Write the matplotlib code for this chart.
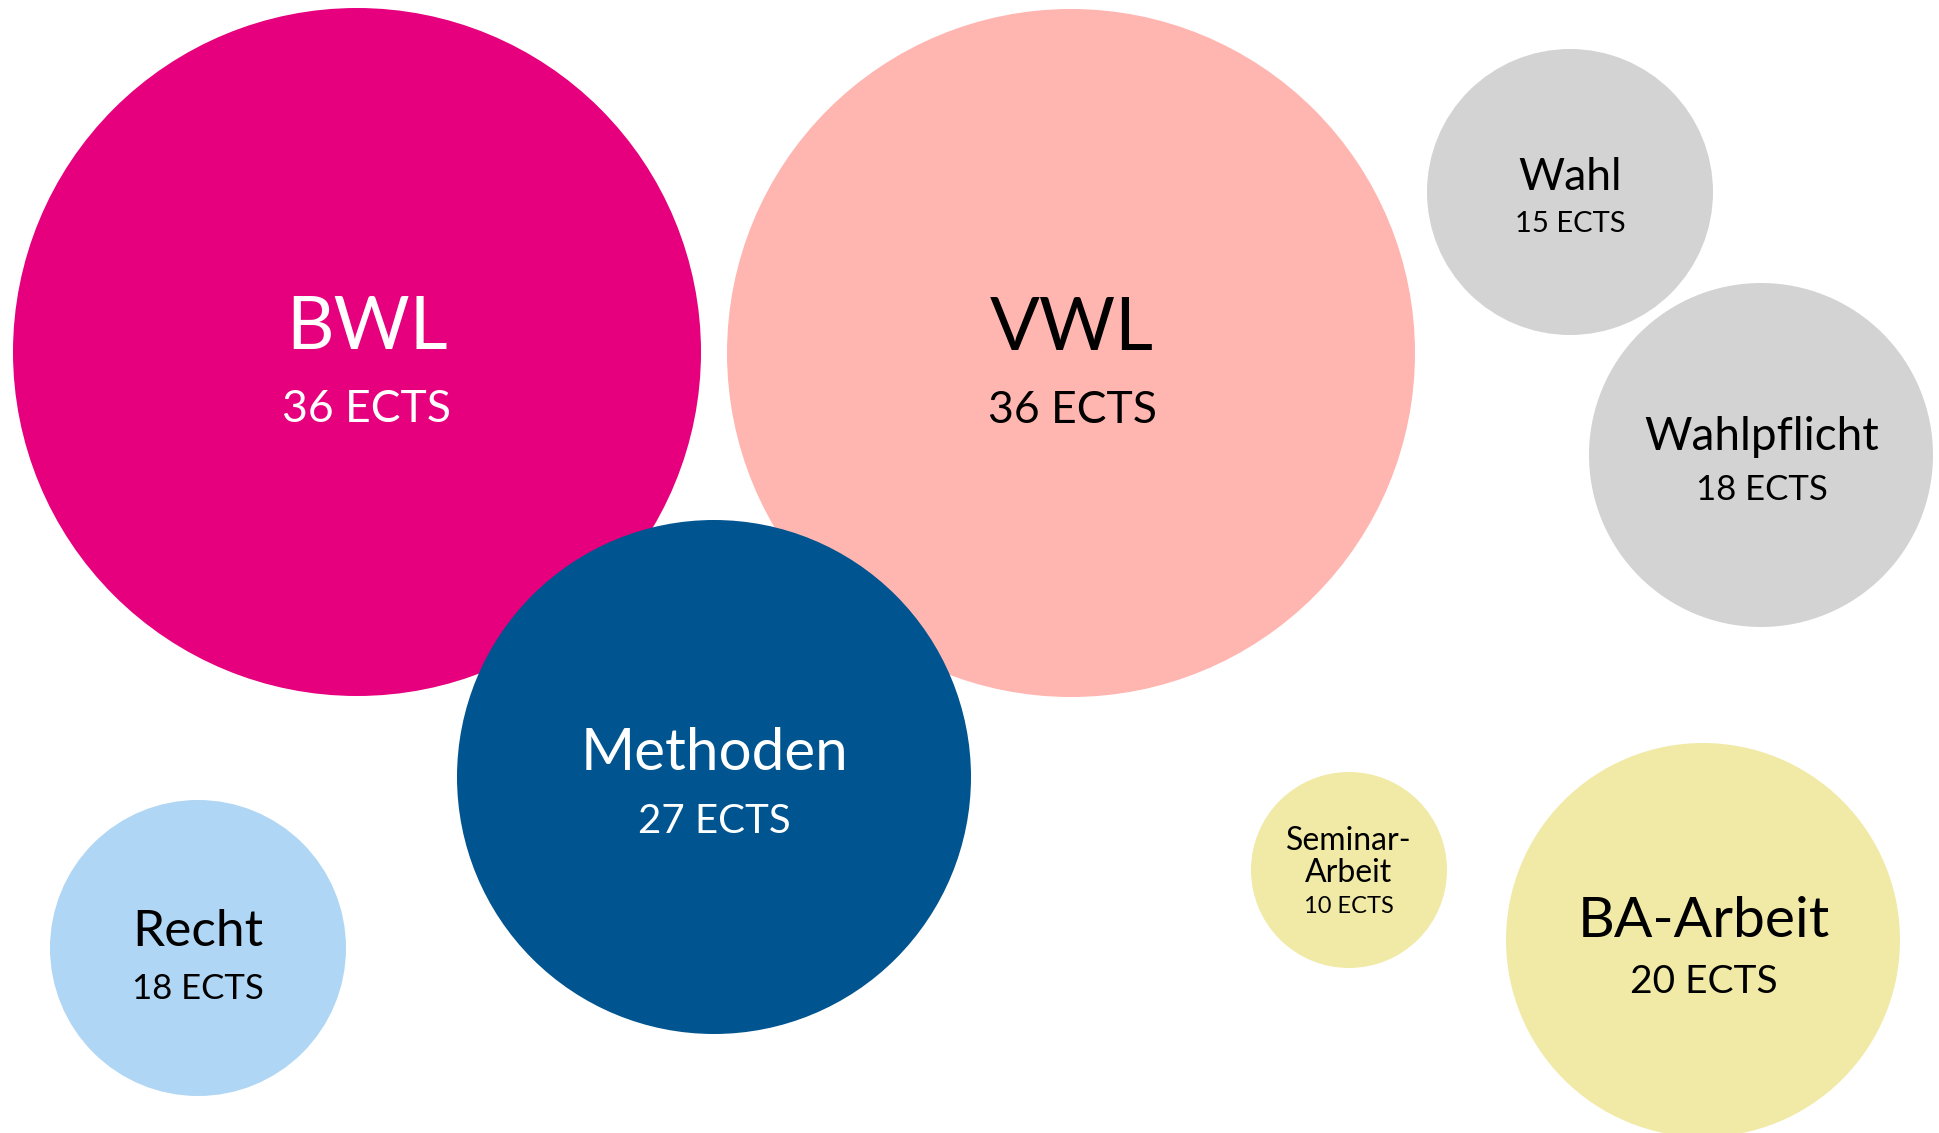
import matplotlib.pyplot as plt
from matplotlib.patches import Circle

plt.rcParams['font.family'] = ['Lato', 'DejaVu Sans']

# modules and their credit points
modules = ["BWL", "VWL", "Methoden", "Recht", "Wahl", "Wahlpflicht",
           "Seminar-\nArbeit", "BA-Arbeit"]
ects = [36, 36, 27, 18, 15, 18, 10, 20]

# layout in pixels (figure is 1939 x 1133, y downwards)
cx = [357, 1071, 714, 198, 1570, 1761, 1349, 1703]
cy = [352, 353, 777, 948, 192, 455, 870, 940]
radius = [344, 344, 257, 148, 143, 172, 98, 197]
text_x = [367, 1072, 714, 198, 1570, 1762, 1349, 1704]
title_base = [349, 350, 770, 946, 190, 450, 882, 937]
sub_base = [422, 423, 833, 999, 232, 500, 913, 993]
title_size = [53, 53, 42, 37, 32, 33, 23, 41]
sub_size = [32, 32, 29, 25, 21, 25, 17, 28]
fills = ["#E6007E", "#FFB5B0", "#00548F", "#AFD6F4",
         "#D3D3D3", "#D3D3D3", "#F0EAA6", "#F0EAA6"]
text_colors = ["white", "black", "white", "black",
               "black", "black", "black", "black"]

W, H = 1939, 1133
fig = plt.figure(figsize=(W / 100, H / 100), dpi=100)
ax = fig.add_axes([0, 0, 1, 1])
ax.set_xlim(0, W)
ax.set_ylim(H, 0)
ax.set_aspect("equal")
ax.axis("off")

for i, name in enumerate(modules):
    ax.add_patch(Circle((cx[i], cy[i]), radius[i], facecolor=fills[i],
                        edgecolor="none", zorder=i + 1))
    lines = name.split("\n")
    step = title_size[i] * 100 / 72 * 1.0
    for j, line in enumerate(lines):
        y = title_base[i] - (len(lines) - 1 - j) * step
        ax.text(text_x[i], y, line, ha="center", va="baseline",
                fontsize=title_size[i], color=text_colors[i], zorder=20)
    ax.text(text_x[i], sub_base[i], f"{ects[i]} ECTS", ha="center", va="baseline",
            fontsize=sub_size[i], color=text_colors[i], zorder=20)

fig.savefig("out.png", dpi=100, facecolor="white")
